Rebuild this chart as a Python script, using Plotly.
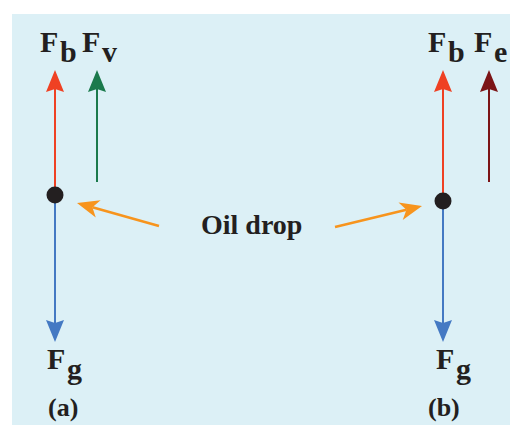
import math
import plotly.graph_objects as go

# ---- data -------------------------------------------------------------
force_names = ["Fb (a)", "Fv (a)", "Fg (a)", "Fb (b)", "Fe (b)", "Fg (b)"]
force_x = [55, 97, 55, 443, 489, 443]
force_start_y = [195, 182, 195, 201, 182, 201]
force_tip_y = [70, 70, 342, 70, 70, 342]
force_colors = ["#EF4123", "#1B7A4C", "#4479C3", "#EF4123", "#7B1416", "#4479C3"]

drop_x = [55, 443]
drop_y = [195, 201]

pointer_from_x = [159, 335]
pointer_from_y = [226, 227]
pointer_to_x = [77, 422]
pointer_to_y = [203, 206]

label_main = ["F", "F", "F", "F", "F", "F"]
label_sub = ["b", "v", "g", "b", "e", "g"]
label_x = [40, 82, 47, 428, 474, 436]
label_y = [41, 41, 358, 41, 41, 358]

caption_text = ["(a)", "(b)"]
caption_x = [63, 444]
caption_y = [407, 407]

center_text = "Oil drop"
center_x = 251
center_y = 224

BG = "#DCF0F6"
INK = "#231F20"
ORANGE = "#F7941D"
FONT = "Liberation Serif"

shapes = [dict(type="rect", xref="x", yref="y", x0=12, x1=510, y0=14, y1=425,
               fillcolor=BG, line_width=0, layer="below")]


def arrow(x0, y0, x1, y1, color, width, head_len, half, notch):
    dx, dy = x1 - x0, y1 - y0
    L = math.hypot(dx, dy)
    ux, uy = dx / L, dy / L
    px, py = -uy, ux
    bx, by = x1 - ux * head_len, y1 - uy * head_len
    nx, ny = x1 - ux * (head_len - notch), y1 - uy * (head_len - notch)
    out = [dict(type="line", xref="x", yref="y", x0=x0, y0=y0, layer="below",
                x1=nx, y1=ny, line=dict(color=color, width=width))]
    path = (f"M{x1},{y1} L{bx + px * half},{by + py * half} "
            f"L{nx},{ny} L{bx - px * half},{by - py * half} Z")
    out.append(dict(type="path", xref="x", yref="y", path=path, layer="below",
                    fillcolor=color, line_width=0))
    return out


for i in range(len(force_x)):
    shapes += arrow(force_x[i], force_start_y[i], force_x[i], force_tip_y[i],
                    force_colors[i], 2, 22, 9, 3)

for i in range(len(pointer_from_x)):
    shapes += arrow(pointer_from_x[i], pointer_from_y[i], pointer_to_x[i],
                    pointer_to_y[i], ORANGE, 2.5, 22, 9, 6)

fig = go.Figure()
fig.add_trace(go.Scatter(x=drop_x, y=drop_y, mode="markers",
                         marker=dict(size=17, color=INK, line_width=0),
                         hoverinfo="skip", showlegend=False))

annotations = []
for i in range(len(label_main)):
    annotations.append(dict(x=label_x[i] + 19, y=label_y[i], xref="x", yref="y",
                            text=f"<b>{label_main[i]}</b>", showarrow=False,
                            xanchor="right", yanchor="middle", borderpad=0,
                            font=dict(family=FONT, size=30, color=INK)))
    annotations.append(dict(x=label_x[i] + 19, y=label_y[i] + 10, xref="x", yref="y",
                            text=f"<b>{label_sub[i]}</b>", showarrow=False,
                            xanchor="left", yanchor="middle", borderpad=0,
                            font=dict(family=FONT, size=30, color=INK)))
for i in range(len(caption_text)):
    annotations.append(dict(x=caption_x[i], y=caption_y[i], xref="x", yref="y",
                            text=f"<b>{caption_text[i]}</b>", showarrow=False,
                            xanchor="center", yanchor="middle",
                            font=dict(family=FONT, size=26, color=INK)))
annotations.append(dict(x=center_x, y=center_y, xref="x", yref="y",
                        text=f"<b>{center_text}</b>", showarrow=False,
                        xanchor="center", yanchor="middle",
                        font=dict(family=FONT, size=28, color=INK)))

fig.update_layout(
    width=510, height=425, margin=dict(l=0, r=0, t=0, b=0),
    paper_bgcolor="white", plot_bgcolor="white",
    xaxis=dict(range=[0, 510], visible=False, fixedrange=True),
    yaxis=dict(range=[425, 0], visible=False, fixedrange=True),
    shapes=shapes, annotations=annotations, showlegend=False,
)
fig.write_html("out.html", config=dict(displayModeBar=False),
               post_script="document.body.style.margin='0px';")
